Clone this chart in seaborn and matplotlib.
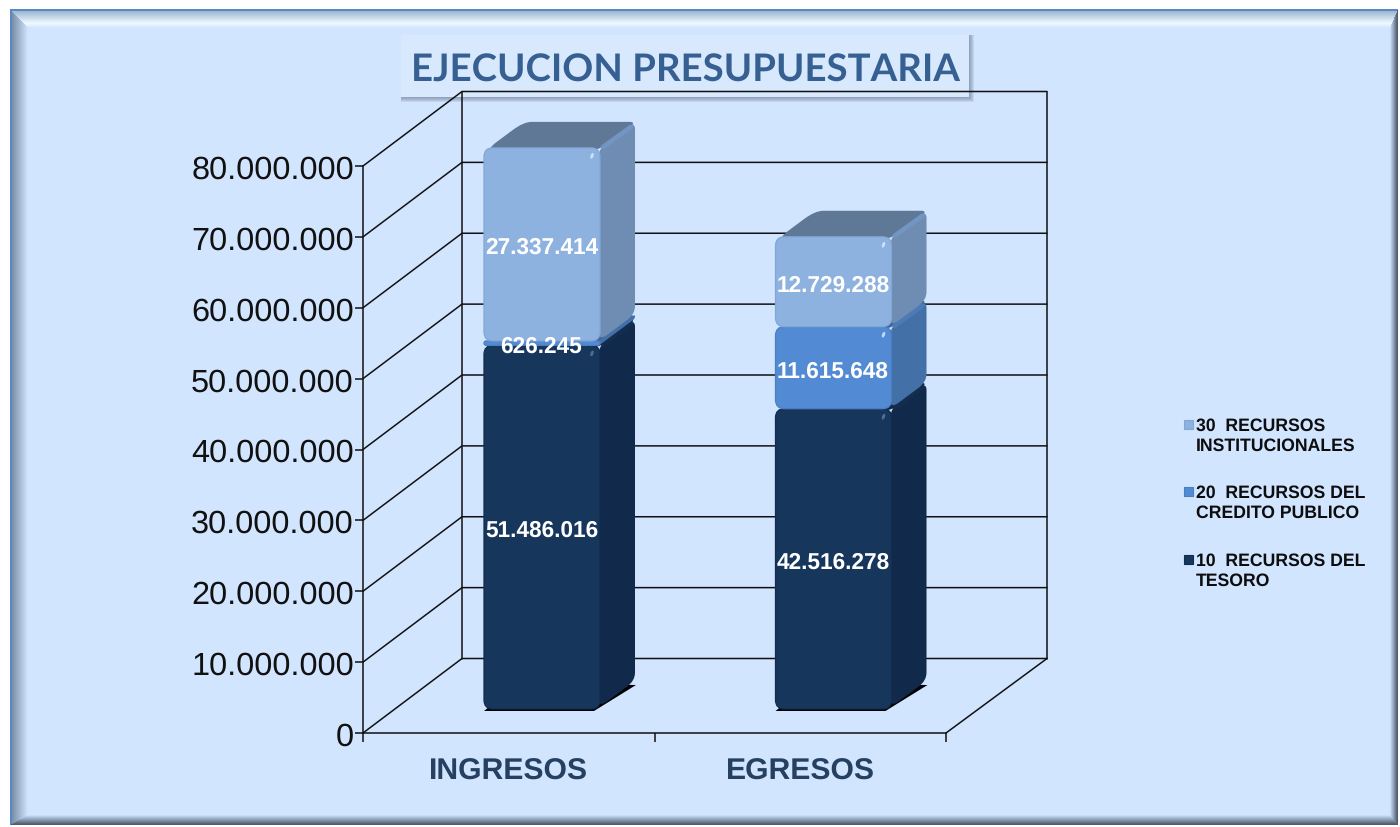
"""Ejecucion presupuestaria: stacked pseudo-3D bars on a bevelled panel."""
import matplotlib
matplotlib.use("Agg")
import matplotlib.pyplot as plt
import numpy as np
import pandas as pd
import seaborn as sns
from matplotlib.colors import to_rgb
from matplotlib.patches import BoxStyle, Ellipse, PathPatch, Polygon, Rectangle
from matplotlib.transforms import Affine2D, IdentityTransform

W, H = 1400, 828
ID = IdentityTransform()

# ---------------------------------------------------------------------------
# Data
# ---------------------------------------------------------------------------
categories = ["INGRESOS", "EGRESOS"]
recursos_tesoro = [51486016, 42516278]
recursos_credito = [626245, 11615648]
recursos_institucionales = [27337414, 12729288]
series_values = [recursos_tesoro, recursos_credito, recursos_institucionales]
series_names = [
    "10  RECURSOS DEL\nTESORO",
    "20  RECURSOS DEL\nCREDITO PUBLICO",
    "30  RECURSOS\nINSTITUCIONALES",
]
y_ticks = list(range(0, 80000001, 10000000))
y_labels = ["0"] + [f"{v:,}".replace(",", ".") for v in y_ticks[1:]]

# front, side, top, edge, rim
STYLES = [
    ("#16365c", "#11294a", "#0f2745", "#122d4f", "#142f52"),
    ("#528bd3", "#4470a8", "#3f6698", "#4b7fc2", "#4f80be"),
    ("#8db2e0", "#6f8db3", "#5f7896", "#82a6d5", "#7499c9"),
]
PANEL = "#d2e5ff"
TITLE_COL = "#376092"
CAT_COL = "#254061"
LINE = "#111111"

# pseudo-3D geometry, in pixels
WALL_DX, WALL_DY = 99, 74.5
BAR_DX, BAR_DY = 33.25, 24
DEPTH_DX, DEPTH_DY = 35, 26
RADIUS = 9
AXIS_BASE = H - 734
BAR_SCALE = 0.9965

sns.set_theme(style="white")
plt.rcParams["font.family"] = ["Liberation Sans", "DejaVu Sans"]
plt.rcParams["text.hinting"] = "no_hinting"
plt.rcParams["text.hinting_factor"] = 8

fig = plt.figure(figsize=(W / 100, H / 100), dpi=100)
fig.patch.set_facecolor("white")


# ---------------------------------------------------------------------------
# Panel with bevelled frame
# ---------------------------------------------------------------------------
def panel_image():
    x0, y0, x1, y1 = 10, 10, 1398, 826
    yy, xx = np.mgrid[0:H, 0:W] + 0.5
    dist = np.stack([(xx - x0) / 18, (yy - y0) / 19, (x1 - xx) / 8, (y1 - yy) / 10])
    side = dist.argmin(axis=0)
    t = dist.min(axis=0)
    stops = [
        ([0, 0.12, 0.13, 1], ["#5b87c5", "#5b87c5", "#7b90a8", PANEL]),
        ([0, 0.1, 0.11, 0.75, 0.85, 1], ["#5b87c5", "#5b87c5", "#9db6d2", "#eefaff", "#e4f2ff", PANEL]),
        ([0, 0.15, 1], ["#4a586b", "#566679", PANEL]),
        ([0, 0.15, 1], ["#4a586b", "#566679", PANEL]),
    ]
    img = np.ones((H, W, 3))
    for i, (pos, cols) in enumerate(stops):
        rgb = np.array([to_rgb(c) for c in cols])
        mask = side == i
        for c in range(3):
            img[..., c][mask] = np.interp(t[mask], pos, rgb[:, c])
    img[t < 0] = 1.0
    return img


bg = fig.add_axes([0, 0, 1, 1], zorder=0)
bg.imshow(panel_image(), extent=(0, W, H, 0), aspect="auto", interpolation="nearest")
bg.set_xlim(0, W)
bg.set_ylim(H, 0)
bg.axis("off")

# title box with soft shadow
for k in range(5, 0, -1):
    bg.add_patch(Rectangle((401, 36), 568 + k, 62 + k, fc="#44546a", ec="none", alpha=0.11))
bg.add_patch(Rectangle((401, 36), 568, 62, fc="#d8e8fd", ec="none"))
bg.text(685, 71, "EJECUCION PRESUPUESTARIA", family="Lato", fontweight="bold",
        fontsize=27.6, color=TITLE_COL, ha="center", va="center")

# legend, top entry first
for name, style, y in zip(series_names[::-1], STYLES[::-1], [425, 492, 560]):
    first, second = name.split("\n")
    bg.add_patch(Rectangle((1184, y - 4.5), 9, 9, fc=style[0], ec=style[3], lw=0.8))
    bg.text(1196, y + 1, first, fontsize=12.7, fontweight="bold", color="#0d0d0d", ha="left", va="center")
    bg.text(1196, y + 21, second, fontsize=12.7, fontweight="bold", color="#0d0d0d", ha="left", va="center")

# ---------------------------------------------------------------------------
# Main axes: front plane of the 3D box
# ---------------------------------------------------------------------------
ax = fig.add_axes([363 / W, AXIS_BASE / H, (946 - 363) / W, (734 - 167) / H], zorder=1)
ax.patch.set_visible(False)

frame = pd.DataFrame({"categoria": categories})
bottoms = np.zeros(len(categories))
stack = []
for values, style in zip(series_values, STYLES):
    frame["valor"] = values
    sns.barplot(data=frame, x="categoria", y="valor", order=categories, color=style[0],
                saturation=1, width=0.398, bottom=bottoms, linewidth=0, ax=ax)
    stack.append((ax.containers[-1], values, bottoms.copy(), style))
    bottoms = bottoms + np.array(values)

ax.set_xlim(-0.5, 1.5)
ax.set_ylim(0, 80000000)
ax.set_xlabel("")
ax.set_ylabel("")
ax.set_yticks(y_ticks, y_labels)
ax.set_xticks([-0.5, 0.5, 1.5], ["", "", ""])
ax.set_xticks([0, 1], categories, minor=True)
ax.tick_params(axis="y", left=True, length=6, width=1.1, color=LINE, labelsize=23.4, pad=0.6,
               labelcolor="#111111")
ax.tick_params(axis="x", which="major", bottom=True, length=6.5, width=1.1, color=LINE)
ax.tick_params(axis="x", which="minor", bottom=False, length=0, labelsize=21.7, pad=17,
               labelcolor=CAT_COL)
for lab in ax.get_xticklabels(minor=True):
    lab.set_fontweight("bold")
for name in ("top", "right"):
    ax.spines[name].set_visible(False)
for name in ("left", "bottom"):
    ax.spines[name].set_color(LINE)
    ax.spines[name].set_linewidth(1.1)


def line(xs, ys, z=1.5):
    ax.plot(xs, ys, color=LINE, lw=1.1, transform=ID, clip_on=False, zorder=z)


# walls and gridlines of the box
for v in y_ticks:
    (xa, ya), (xb, _) = ax.transData.transform([(-0.5, v), (1.5, v)])
    line([xa, xa + WALL_DX, xb + WALL_DX + 2], [ya, ya + WALL_DY, ya + WALL_DY])
(xa, y_low), (xb, y_high) = ax.transData.transform([(-0.5, 0), (1.5, 80000000)])
line([xa + WALL_DX] * 2, [y_low + WALL_DY, y_high + WALL_DY])
line([xb + WALL_DX + 2] * 2, [y_low + WALL_DY, y_high + WALL_DY])
line([xb, xb + WALL_DX + 2], [y_low, y_low + WALL_DY])

# ---------------------------------------------------------------------------
# Bars: seaborn bars are the front faces, depth faces are derived from them
# ---------------------------------------------------------------------------
bar_trans = ax.transData + (Affine2D().translate(0, -AXIS_BASE).scale(1, BAR_SCALE)
                            .translate(BAR_DX, AXIS_BASE + BAR_DY))
label_trans = bar_trans + Affine2D().translate(-0.5, -2.8)


def sheared_box(x, y, w, h, r, shear_x=0.0, shear_y=0.0):
    r = min(r, h / 2, w / 2)
    path = BoxStyle("Round", pad=0, rounding_size=r)(x, y, w, h, 1)
    return path.transformed(
        Affine2D().translate(-x, -y).skew(np.arctan(shear_x), np.arctan(shear_y)).translate(x, y))


for level, (container, values, bases, style) in enumerate(stack):
    front, side, top, edge, rim = style
    z = 3 + level
    for i, bar in enumerate(container):
        (x0, y0), (x1, y1) = bar_trans.transform([(bar.get_x(), bar.get_y()),
                                                  (bar.get_x() + bar.get_width(), bar.get_y() + bar.get_height())])
        w, h = x1 - x0, y1 - y0
        slope = DEPTH_DY / DEPTH_DX
        side_y = y0
        if level == 0:
            # black floor shadow, shows under the rounded corners
            ax.add_patch(Polygon([(x0, y0 - 2), (x1 - 6, y0 - 2), (x1 + DEPTH_DX + 1, y0 + DEPTH_DY - 2),
                                  (x0 + DEPTH_DX, y0 + DEPTH_DY)],
                                 fc="black", ec="none", transform=ID, clip_on=False, zorder=z))
            side_y = y0 + 1.5
        # top face, then side face, then the front face
        ax.add_patch(PathPatch(sheared_box(x0 + 2, y1 - 2, w - 2, DEPTH_DY + 2, 8, shear_x=DEPTH_DX / DEPTH_DY),
                               fc=top, ec="none", transform=ID, clip_on=False, zorder=z + 0.1))
        side_h = max(y1 - side_y, 3)
        ax.add_patch(PathPatch(sheared_box(x1 - 1, side_y, DEPTH_DX + 1, side_h, 8, shear_y=slope),
                               fc=side, ec="none", transform=ID, clip_on=False, zorder=z + 0.2))
        if h > 10:
            # lighter rim along the upper edge of the side face
            ax.plot([x1 + 3, x1 + DEPTH_DX - 4], [y1 + 1, y1 + DEPTH_DY - 5], color=rim, lw=3.4,
                    alpha=0.75, transform=ID, clip_on=False, zorder=z + 0.25, solid_capstyle="round")
        clip = PathPatch(sheared_box(x0, y0, w, h, RADIUS), transform=ID)
        bar.set_transform(bar_trans)
        bar.set_zorder(z + 0.3)
        bar.set_clip_box(None)
        bar.set_clip_path(clip)
        ax.add_patch(PathPatch(sheared_box(x0, y0, w, h, RADIUS), fc="none", ec=edge, lw=0.9,
                               transform=ID, clip_on=False, zorder=z + 0.35))
        if h > 10:
            ax.add_patch(Ellipse((x1 - 8, y1 - 8), 3, 6, angle=-20, fc="#dcecff", ec="none",
                                 alpha=0.3 if level == 0 else 0.8,
                                 transform=ID, clip_on=False, zorder=z + 0.4))

# value labels go on top of every face
for container, values, bases, style in stack:
    for i, v in enumerate(values):
        ax.text(i, bases[i] + v / 2, f"{v:,}".replace(",", "."), transform=label_trans, color="white",
                fontsize=16.3, fontweight="bold", ha="center", va="center", clip_on=False, zorder=20)

fig.savefig("out.png", dpi=100)
